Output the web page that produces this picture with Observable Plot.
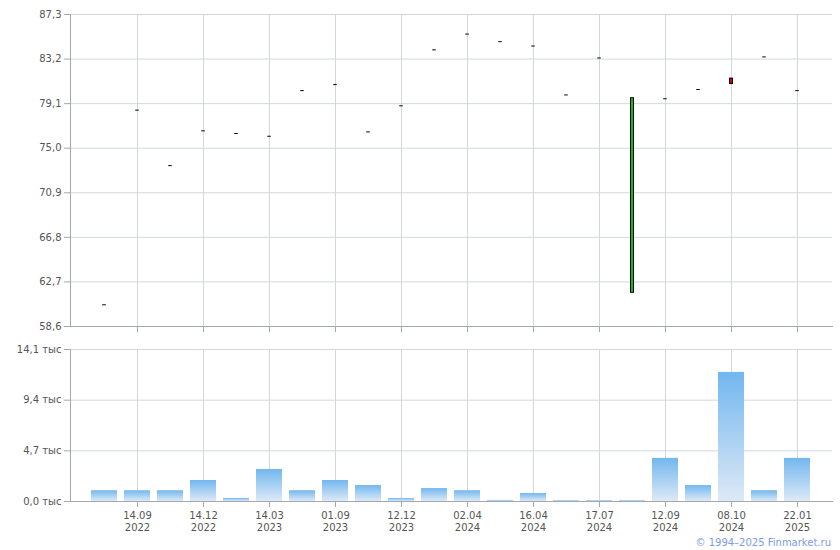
<!DOCTYPE html>
<html><head><meta charset="utf-8">
<script src="https://cdn.jsdelivr.net/npm/d3@7"></script>
<script src="https://cdn.jsdelivr.net/npm/@observablehq/plot@0.6"></script>
<style>
body{margin:0;background:#fff;}
#wrap{position:relative;width:840px;height:550px;font-family:"DejaVu Sans",sans-serif;background:#fff;}
#price{position:absolute;left:0;top:0;}
#vol{position:absolute;left:0;top:340px;}
#copy{position:absolute;right:9px;top:537px;font-size:10px;color:#7c9ce6;font-family:"DejaVu Sans",sans-serif;}
</style></head><body>
<div id="wrap"><div id="price"></div><div id="vol"></div><div id="copy">© 1994–2025 Finmarket.ru</div></div>
<script>
// ---- data ----
const candleIndex = [0,1,2,3,4,5,6,7,8,9,10,11,12,13,14,15,16,17,18,19,20,21];
const openPx  = [60.6, 78.5, 73.4, 76.6, 76.35, 76.1, 80.3, 80.85, 76.5, 78.9, 84.05, 85.5, 84.8, 84.4, 79.9, 83.3, 61.7, 79.55, 80.4, 81.4, 83.4, 80.3];
const closePx = [60.6, 78.5, 73.4, 76.6, 76.35, 76.1, 80.3, 80.85, 76.5, 78.9, 84.05, 85.5, 84.8, 84.4, 79.9, 83.3, 79.6, 79.55, 80.4, 80.9, 83.4, 80.3];
const volumeK = [1.0, 1.0, 1.0, 1.95, 0.28, 2.97, 1.0, 1.95, 1.48, 0.28, 1.2, 1.0, 0.1, 0.74, 0.08, 0.08, 0.08, 4.0, 1.48, 11.97, 1.0, 4.0];
const tickIndex = [1,3,5,7,9,11,13,15,17,19,21];
const tickLabels = ["14.09\n2022","14.12\n2022","14.03\n2023","01.09\n2023","12.12\n2023","02.04\n2024","16.04\n2024","17.07\n2024","12.09\n2024","08.10\n2024","22.01\n2025"];
const priceTicks = [58.6, 62.7, 66.8, 70.9, 75.0, 79.1, 83.2, 87.3];
const volumeTicks = [0, 4.7, 9.4, 14.1];

const candles = candleIndex.map((i) => ({i, open: openPx[i], close: closePx[i], vol: volumeK[i]}));
const labelAt = new Map(tickIndex.map((t, k) => [t, tickLabels[k]]));
const fmt = (d) => d.toFixed(1).replace(".", ",");

const W = 840, ML = 70, MR = 8;
const GRID = "#d3d7db", AX = "#a4a8ae", TXT = "#555";
const xOpts = {type: "band", domain: candleIndex, paddingInner: 0.2, paddingOuter: 0.6};
const step = (W - ML - MR) / 23;
const bw = step * 0.8;
const cInset = (bw - 3.5) / 2;
const dInset = (bw - 4) / 2;

const price = Plot.plot({
  width: W, height: 340, marginTop: 14, marginBottom: 14, marginLeft: ML, marginRight: MR,
  style: {fontFamily: "DejaVu Sans", fontSize: "10px", color: TXT, background: "white", overflow: "visible"},
  x: xOpts,
  y: {domain: [58.6, 87.3]},
  marks: [
    Plot.gridY(priceTicks, {stroke: GRID, strokeOpacity: 1}),
    Plot.gridX(tickIndex, {stroke: GRID, strokeOpacity: 1}),
    Plot.frame({anchor: "left", stroke: AX}),
    Plot.frame({anchor: "bottom", stroke: AX}),
    Plot.axisY(priceTicks, {tickFormat: fmt, tickSize: 6, tickPadding: 3, stroke: AX, fill: TXT, label: null}),
    Plot.axisX(tickIndex, {tickFormat: () => "", tickSize: 6, stroke: AX, label: null}),
    Plot.barY(candles.filter(d => d.open !== d.close), {
      x: "i", y1: "open", y2: "close",
      fill: d => d.close > d.open ? "#10c010" : "#e00000",
      stroke: "black", strokeWidth: 1, insetLeft: cInset, insetRight: cInset
    }),
    Plot.tickY(candles.filter(d => d.open === d.close), {
      x: "i", y: "open", stroke: "black", strokeWidth: 1, insetLeft: dInset, insetRight: dInset
    })
  ]
});
document.getElementById("price").append(price);

const vol = Plot.plot({
  width: W, height: 195, marginTop: 9, marginBottom: 34, marginLeft: ML, marginRight: MR,
  style: {fontFamily: "DejaVu Sans", fontSize: "10px", color: TXT, background: "white", overflow: "visible"},
  x: xOpts,
  y: {domain: [0, 14.1]},
  marks: [
    () => {
      const defs = d3.create("svg:defs");
      const g = defs.append("linearGradient").attr("id", "volGrad")
        .attr("x1", 0).attr("y1", 0).attr("x2", 0).attr("y2", 1);
      g.append("stop").attr("offset", "0%").attr("stop-color", "#72b7ef");
      g.append("stop").attr("offset", "100%").attr("stop-color", "#dde9f6");
      return defs.node();
    },
    Plot.gridY(volumeTicks, {stroke: GRID, strokeOpacity: 1}),
    Plot.gridX(tickIndex, {stroke: GRID, strokeOpacity: 1}),
    Plot.barY(candles, {x: "i", y: "vol", fill: "url(#volGrad)"}),
    Plot.frame({anchor: "left", stroke: AX}),
    Plot.frame({anchor: "bottom", stroke: AX}),
    Plot.axisY(volumeTicks, {tickFormat: d => fmt(d) + " тыс", tickSize: 6, tickPadding: 3, stroke: AX, fill: TXT, label: null}),
    Plot.axisX(tickIndex, {tickFormat: d => labelAt.get(d), tickSize: 6, tickPadding: 3, lineHeight: 1.2, stroke: AX, fill: TXT, label: null})
  ]
});
document.getElementById("vol").append(vol);
</script>
</body></html>
